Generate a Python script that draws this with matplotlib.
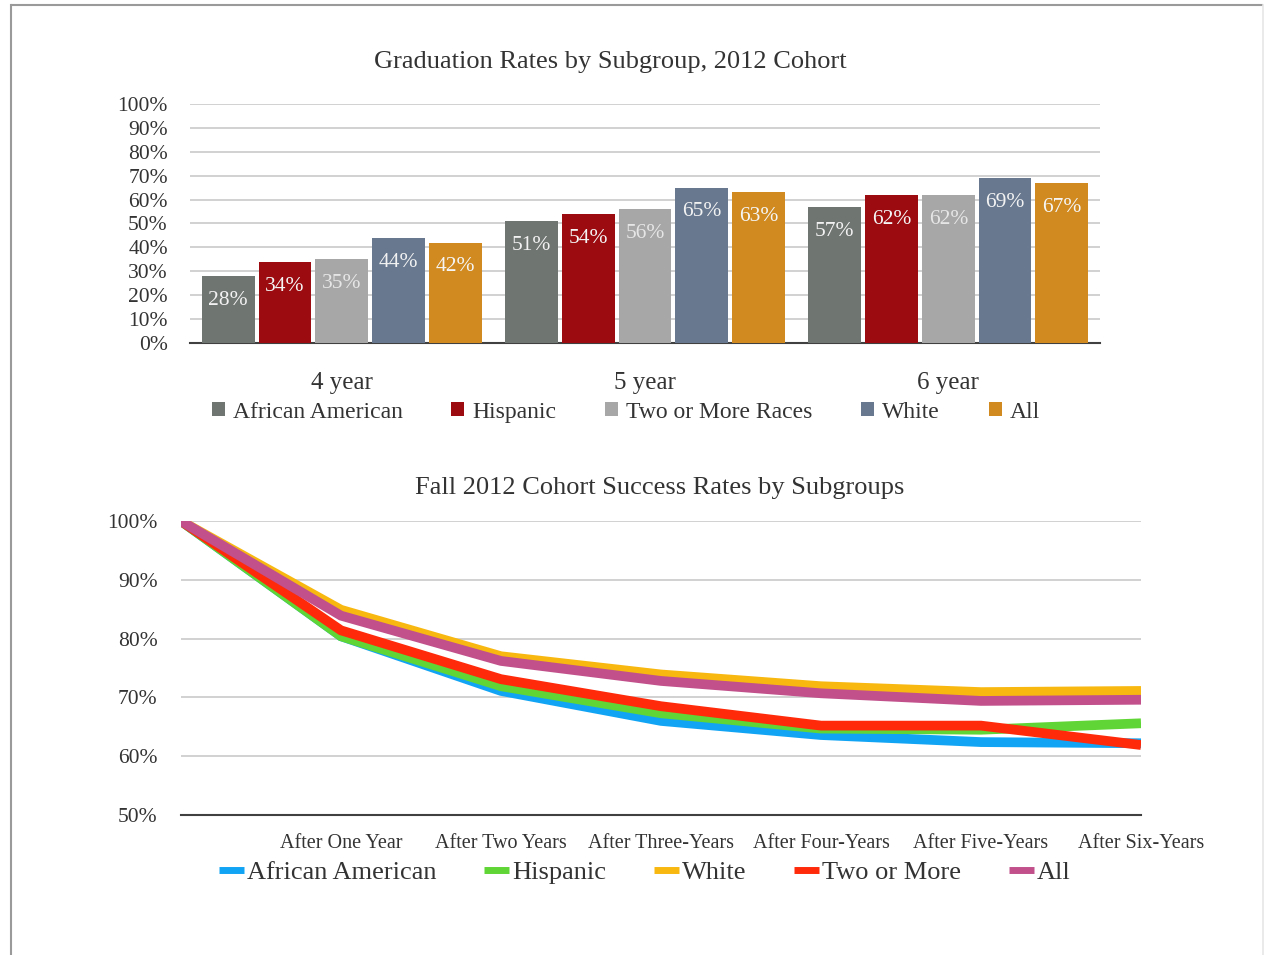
import matplotlib
matplotlib.use("Agg")
import matplotlib.pyplot as plt
import numpy as np
from matplotlib.patches import Patch
from matplotlib.lines import Line2D

plt.rcParams['font.family'] = ['Liberation Serif', 'DejaVu Serif']

# ---------------- data ----------------
bar_title = "Graduation Rates by Subgroup, 2012 Cohort"
bar_categories = ["4 year", "5 year", "6 year"]
bar_groups = ["African American", "Hispanic", "Two or More Races", "White", "All"]
bar_african_american = [28, 51, 57]
bar_hispanic = [34, 54, 62]
bar_two_or_more = [35, 56, 62]
bar_white = [44, 65, 69]
bar_all = [42, 63, 67]
bar_yticks = [0, 10, 20, 30, 40, 50, 60, 70, 80, 90, 100]

line_title = "Fall 2012 Cohort Success Rates by Subgroups"
line_categories = ["", "After One Year", "After Two Years", "After Three-Years",
                   "After Four-Years", "After Five-Years", "After Six-Years"]
line_groups = ["African American", "Hispanic", "White", "Two or More", "All"]
line_african_american = [100, 80.4, 71.1, 66.0, 63.6, 62.4, 62.2]
line_hispanic = [100, 80.4, 71.9, 67.3, 64.7, 64.5, 65.6]
line_white = [100, 84.9, 77.0, 73.9, 71.9, 70.9, 71.1]
line_two_or_more = [100, 81.4, 73.1, 68.5, 65.2, 65.2, 61.9]
line_all = [100, 83.9, 76.2, 72.8, 70.7, 69.4, 69.6]
line_yticks = [50, 60, 70, 80, 90, 100]

# ---------------- styles ----------------
bar_colors = ["#6f7571", "#9b0b10", "#a7a7a7", "#67788f", "#d08a20"]
bar_label_colors = ["#f2f2f2", "#f5f5f5", "#e6e6e6", "#f2f2f2", "#f5f5f5"]
line_colors = ["#12a4f4", "#5fd635", "#f8b810", "#fe2a0a", "#c1508b"]
text_color = "#333333"
grid_color = "#c9c9c9"

fig = plt.figure(figsize=(12.7, 9.55), dpi=100)

# page border
fig.add_artist(Line2D([12/1270, 1262/1270], [1-5/955, 1-5/955], transform=fig.transFigure,
                      color="#9a9a9a", lw=1.5))
fig.add_artist(Line2D([11/1270, 11/1270], [0, 1-5/955], transform=fig.transFigure,
                      color="#9a9a9a", lw=1.5))
fig.add_artist(Line2D([1263/1270, 1263/1270], [0, 1-5/955], transform=fig.transFigure,
                      color="#e6e6e6", lw=1.2))

# ---------------- bar chart ----------------
ax1 = fig.add_axes([190/1270, 1-343/955, 910/1270, 239/955])
series = [bar_african_american, bar_hispanic, bar_two_or_more, bar_white, bar_all]
x = np.arange(len(bar_categories))
slot = 0.187
bw = 0.174
for i, (vals, col, lc, name) in enumerate(zip(series, bar_colors, bar_label_colors, bar_groups)):
    pos = x + (i - 2) * slot
    bars = ax1.bar(pos, vals, width=bw, color=col, label=name, zorder=3)
    for b, v in zip(bars, vals):
        ax1.annotate(f"{v}%", (b.get_x() + b.get_width()/2, v), xytext=(0, -17.5),
                     textcoords="offset points", ha="center", va="center",
                     fontsize=15.5, color=lc, zorder=4)
ax1.set_xlim(-0.5, 2.5)
ax1.set_ylim(0, 100)
ax1.set_yticks(bar_yticks)
ax1.set_yticklabels([f"{t}%" for t in bar_yticks])
ax1.set_xticks(x)
ax1.set_xticklabels(bar_categories)
ax1.yaxis.grid(True, color=grid_color, lw=1.2, zorder=0)
ax1.set_axisbelow(True)
for s in ["top", "right", "left"]:
    ax1.spines[s].set_visible(False)
ax1.spines["bottom"].set_color("#404040")
ax1.spines["bottom"].set_linewidth(1.5)
ax1.tick_params(axis="y", length=0, pad=16, labelsize=15.5, labelcolor=text_color)
ax1.tick_params(axis="x", length=0, pad=21, labelsize=18, labelcolor=text_color)
fig.text(610/1270, 1-62/955, bar_title, ha="center", va="center", fontsize=19, color=text_color)
handles1 = [Patch(facecolor=c, label=n) for c, n in zip(bar_colors, bar_groups)]
leg1 = fig.legend(handles=handles1, loc="center", bbox_to_anchor=(626/1270, 1-412/955),
                  ncol=5, frameon=False, fontsize=17, handlelength=0.55, handleheight=0.55,
                  handletextpad=0.35, columnspacing=2.05, labelcolor=text_color)

# ---------------- line chart ----------------
ax2 = fig.add_axes([181/1270, 1-815/955, 960/1270, 294/955])
lseries = [line_african_american, line_hispanic, line_white, line_two_or_more, line_all]
xl = np.arange(len(line_categories))
for vals, col, name in zip(lseries, line_colors, line_groups):
    ax2.plot(xl, vals, color=col, lw=7, label=name, solid_joinstyle="miter",
             solid_capstyle="butt", zorder=3)
ax2.set_xlim(0, len(line_categories) - 1)
ax2.set_ylim(50, 100)
ax2.set_yticks(line_yticks)
ax2.set_yticklabels([f"{t}%" for t in line_yticks])
ax2.set_xticks(xl)
ax2.set_xticklabels(line_categories)
ax2.yaxis.grid(True, color=grid_color, lw=1.2, zorder=0)
for s in ["top", "right", "left"]:
    ax2.spines[s].set_visible(False)
ax2.spines["bottom"].set_color("#404040")
ax2.spines["bottom"].set_linewidth(1.5)
ax2.tick_params(axis="y", length=0, pad=17, labelsize=15.5, labelcolor=text_color)
ax2.tick_params(axis="x", length=0, pad=14, labelsize=14.5, labelcolor=text_color)
fig.text(660/1270, 1-488/955, line_title, ha="center", va="center", fontsize=19, color=text_color)
leg2 = ax2.legend(loc="center", bbox_to_anchor=(645/1270, 1-872/955),
                  bbox_transform=fig.transFigure, ncol=5, frameon=False, fontsize=19,
                  handlelength=0.95, handletextpad=0.12, columnspacing=1.8,
                  labelcolor=text_color)
for h in leg2.legend_handles:
    h.set_linewidth(5)

fig.savefig("out.png", dpi=100, facecolor="white")
